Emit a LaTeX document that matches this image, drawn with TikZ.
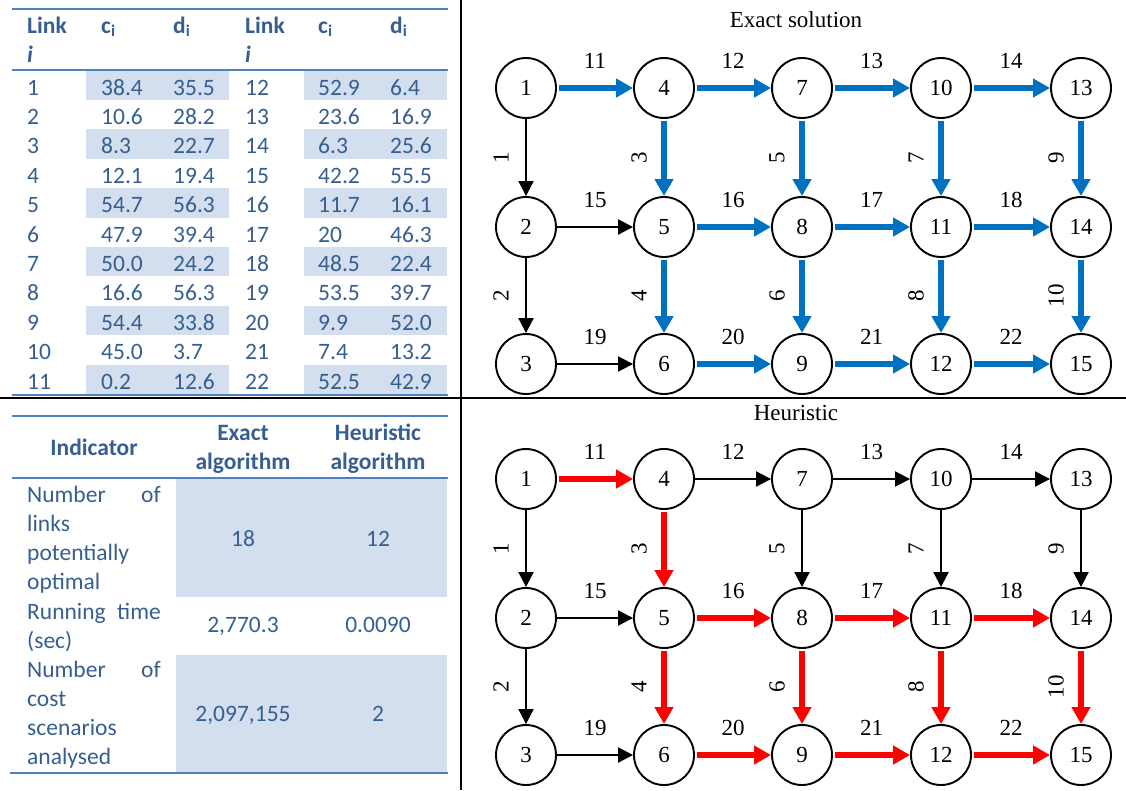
\documentclass[tikz,border=0pt]{standalone}
\usepackage{fontspec}
\setmainfont{Liberation Serif}
\newfontfamily\calib{Carlito}
\usetikzlibrary{arrows.meta}
\definecolor{tabtext}{HTML}{365F91}
\definecolor{tabrule}{HTML}{4F81BD}
\definecolor{tabband}{HTML}{D3DFEE}
\definecolor{pathblue}{HTML}{0070C0}
\definecolor{pathred}{HTML}{FF0000}
\begin{document}
\begin{tikzpicture}[x=1pt,y=-1pt,
  cell/.style={anchor=base west, inner sep=0pt, text=tabtext, font=\calib\fontsize{23.5}{28}\selectfont},
  hcell/.style={cell, font=\calib\bfseries\fontsize{23.5}{28}\selectfont},
  rule/.style={draw=tabrule, line width=2.5pt},
  band/.style={fill=tabband},
  sep/.style={draw=black, line width=2.5pt},
  vtx/.style={circle, draw=black, fill=white, line width=1.9pt, minimum size=60pt, inner sep=0pt, font=\fontsize{23}{26}\selectfont},
  ttl/.style={inner sep=0pt, font=\fontsize{23}{26}\selectfont},
  plainarc/.style={draw=black, line width=2pt, -{Triangle[length=15pt,width=15pt]}},
  bluearc/.style={draw=pathblue, line width=6pt, shorten <=2pt, -{Triangle[length=17pt,width=18pt]}},
  redarc/.style={draw=pathred, line width=6pt, shorten <=2pt, -{Triangle[length=17pt,width=18pt]}},
  hlab/.style={midway, yshift=27pt, inner sep=0pt, text=black, font=\fontsize{23}{26}\selectfont},
  vlab/.style={midway, xshift=-25pt, rotate=90, inner sep=0pt, text=black, font=\fontsize{23}{26}\selectfont}
]
\useasboundingbox (0,0) rectangle (1126,790);

% ---------- link cost table ----------
\foreach \i in {1,3,...,11} {
  \fill[band] (86,{70.5+(\i-1)*29.4}) rectangle (229,{70.5+\i*29.4});
  \fill[band] (304,{70.5+(\i-1)*29.4}) rectangle (447,{70.5+\i*29.4});
}
\draw[rule] (12,9) -- (448,9);
\draw[rule, line width=2pt] (12,70) -- (448,70);
\draw[rule] (12,395) -- (448,395);

\node[hcell] (hl1) at (27,33) {Link};
\node[hcell] (hi1) at (27,62) {\itshape i};
\node[hcell] (hc1) at (101,33) {c\textsubscript{i}};
\node[hcell] (hd1) at (173,33) {d\textsubscript{i}};
\node[hcell] (hl2) at (245,33) {Link};
\node[hcell] (hi2) at (245,62) {\itshape i};
\node[hcell] (hc2) at (318,33) {c\textsubscript{i}};
\node[hcell] (hd2) at (390,33) {d\textsubscript{i}};

\foreach \i/\a/\b/\c/\d/\e in {
  1/38.4/35.5/12/52.9/6.4,
  2/10.6/28.2/13/23.6/16.9,
  3/8.3/22.7/14/6.3/25.6,
  4/12.1/19.4/15/42.2/55.5,
  5/54.7/56.3/16/11.7/16.1,
  6/47.9/39.4/17/20/46.3,
  7/50.0/24.2/18/48.5/22.4,
  8/16.6/56.3/19/53.5/39.7,
  9/54.4/33.8/20/9.9/52.0,
  10/45.0/3.7/21/7.4/13.2,
  11/0.2/12.6/22/52.5/42.9} {
  \pgfmathsetmacro\yb{95+(\i-1)*29.4}
  \node[cell] (r\i l) at (27,\yb) {\i};
  \node[cell] (r\i c) at (101,\yb) {\a};
  \node[cell] (r\i d) at (173,\yb) {\b};
  \node[cell] (s\i l) at (245,\yb) {\c};
  \node[cell] (s\i c) at (318,\yb) {\d};
  \node[cell] (s\i d) at (390,\yb) {\e};
}

% ---------- comparison table ----------
\fill[band] (176,478) rectangle (447,597);
\fill[band] (176,655) rectangle (447,772);
\draw[rule] (12,416) -- (448,416);
\draw[rule, line width=2pt] (12,478) -- (448,478);
\draw[rule] (10,773) -- (448,773);

\node[hcell, anchor=base] (hind) at (94,455) {Indicator};
\node[hcell, anchor=base] (hex1) at (243,440) {Exact};
\node[hcell, anchor=base] (hex2) at (243,469) {algorithm};
\node[hcell, anchor=base] (hhe1) at (378,440) {Heuristic};
\node[hcell, anchor=base] (hhe2) at (378,469) {algorithm};

\node[cell] (i1a) at (27,502) {Number};
\node[cell, anchor=base east] (i1b) at (161,502) {of};
\node[cell] (i1c) at (27,531) {links};
\node[cell] (i1d) at (27,560) {potentially};
\node[cell] (i1e) at (27,589) {optimal};
\node[cell] (i2a) at (27,619) {Running};
\node[cell, anchor=base east] (i2b) at (161,619) {time};
\node[cell] (i2c) at (27,648) {(sec)};
\node[cell] (i3a) at (27,677) {Number};
\node[cell, anchor=base east] (i3b) at (161,677) {of};
\node[cell] (i3c) at (27,706) {cost};
\node[cell] (i3d) at (27,735) {scenarios};
\node[cell] (i3e) at (27,764) {analysed};

\node[cell, anchor=base] (v1e) at (243,546) {18};
\node[cell, anchor=base] (v1h) at (378,546) {12};
\node[cell, anchor=base] (v2e) at (243,632) {2,770.3};
\node[cell, anchor=base] (v2h) at (378,632) {0.0090};
\node[cell, anchor=base] (v3e) at (243,721) {2,097,155};
\node[cell, anchor=base] (v3h) at (378,721) {2};

% ---------- panel separators ----------
\draw[sep] (461,0) -- (461,790);
\draw[sep] (0,398) -- (1126,398);

% ---------- networks ----------
\node[ttl] (t1) at (796,20) {Exact solution};
\node[ttl] (t2) at (796,413) {Heuristic};

\foreach \c/\x in {1/526,2/664,3/802,4/941,5/1081} {
  \foreach \r/\y in {1/88,2/227,3/364} {
    \pgfmathtruncatemacro\n{3*(\c-1)+\r}
    \node[vtx] (a\n) at (\x,\y) {\n};
    \node[vtx] (b\n) at (\x,\y+391) {\n};
  }
}

% exact solution: potentially optimal links in blue
\foreach \s/\t/\l/\st/\lb in {
  1/2/1/plainarc/vlab, 2/3/2/plainarc/vlab,
  4/5/3/bluearc/vlab, 5/6/4/bluearc/vlab,
  7/8/5/bluearc/vlab, 8/9/6/bluearc/vlab,
  10/11/7/bluearc/vlab, 11/12/8/bluearc/vlab,
  13/14/9/bluearc/vlab, 14/15/10/bluearc/vlab,
  1/4/11/bluearc/hlab, 4/7/12/bluearc/hlab, 7/10/13/bluearc/hlab, 10/13/14/bluearc/hlab,
  2/5/15/plainarc/hlab, 5/8/16/bluearc/hlab, 8/11/17/bluearc/hlab, 11/14/18/bluearc/hlab,
  3/6/19/plainarc/hlab, 6/9/20/bluearc/hlab, 9/12/21/bluearc/hlab, 12/15/22/bluearc/hlab} {
  \draw[\st] (a\s) -- (a\t) node[\lb] {\l};
}

% heuristic: potentially optimal links in red
\foreach \s/\t/\l/\st/\lb in {
  1/2/1/plainarc/vlab, 2/3/2/plainarc/vlab,
  4/5/3/redarc/vlab, 5/6/4/redarc/vlab,
  7/8/5/plainarc/vlab, 8/9/6/redarc/vlab,
  10/11/7/plainarc/vlab, 11/12/8/redarc/vlab,
  13/14/9/plainarc/vlab, 14/15/10/redarc/vlab,
  1/4/11/redarc/hlab, 4/7/12/plainarc/hlab, 7/10/13/plainarc/hlab, 10/13/14/plainarc/hlab,
  2/5/15/plainarc/hlab, 5/8/16/redarc/hlab, 8/11/17/redarc/hlab, 11/14/18/redarc/hlab,
  3/6/19/plainarc/hlab, 6/9/20/redarc/hlab, 9/12/21/redarc/hlab, 12/15/22/redarc/hlab} {
  \draw[\st] (b\s) -- (b\t) node[\lb] {\l};
}
\end{tikzpicture}
\end{document}
